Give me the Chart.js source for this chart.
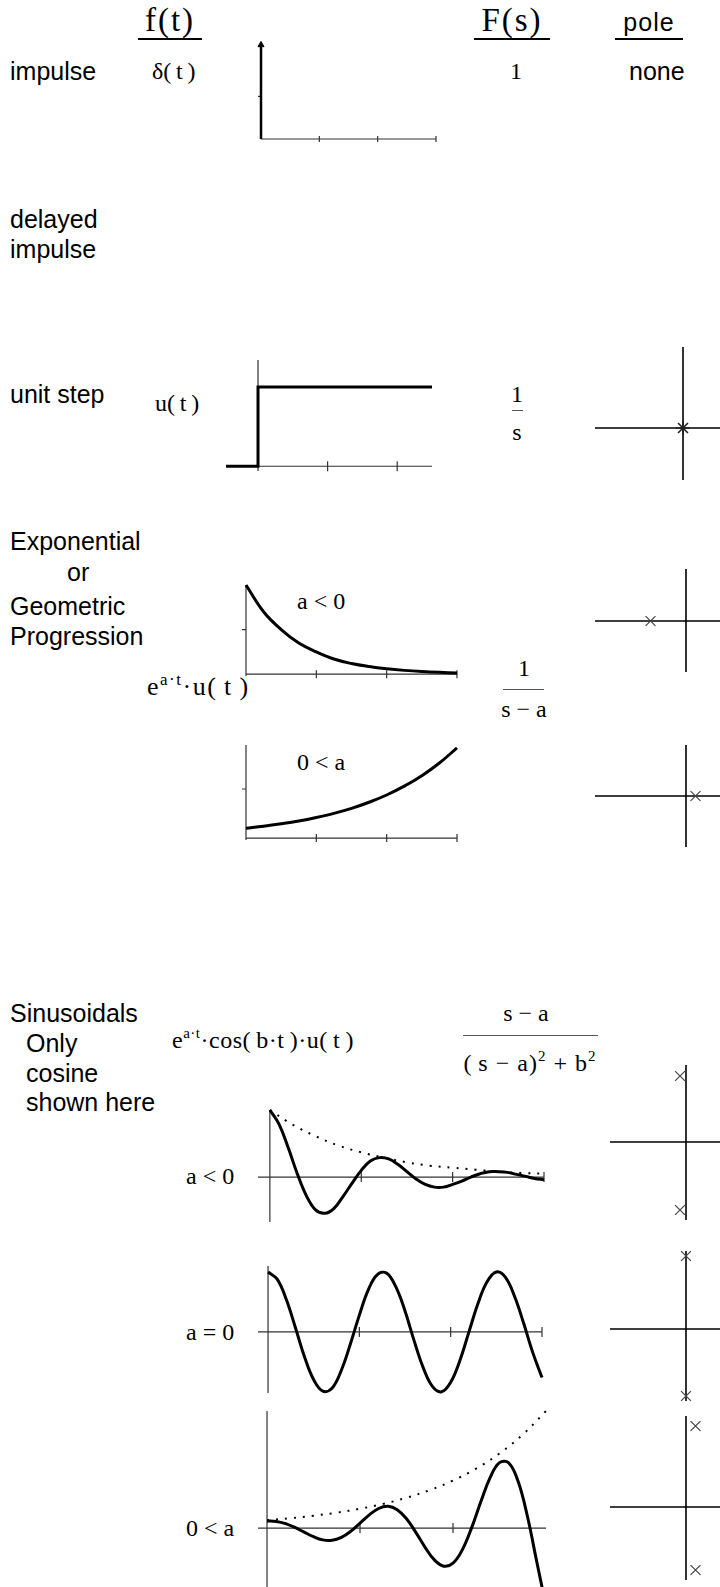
<!DOCTYPE html>
<html>
<head>
<meta charset="utf-8">
<script src="https://cdn.jsdelivr.net/npm/chart.js@4.4.0/dist/chart.umd.min.js"></script>
<style>
  html, body { margin: 0; padding: 0; background: #fff; }
  #page { position: relative; width: 720px; height: 1587px; overflow: hidden; }
  .txt { position: absolute; white-space: nowrap; line-height: 1; transform: translateY(-50%); color: #000; }
  .txt.c { transform: translate(-50%, -50%); }
  .sans { font-family: "Liberation Sans", Arial, sans-serif; font-size: 25px; }
  .ser { font-family: "Liberation Serif", "Times New Roman", serif; font-size: 24px; }
  .ser sup { font-size: 15px; line-height: 0; vertical-align: 10px; }
  .wide { font-size: 26px; letter-spacing: 1.5px; }
  .wide sup { font-size: 17px; }
  .hdr { position: absolute; text-align: center; border-bottom: 2px solid #000; }
  .bar { position: absolute; height: 1px; background: #555; }
  canvas { position: absolute; }
</style>
</head>
<body>
<div id="page"></div>
<script>
// ---- data ----
const tFine = [0, 0.1, 0.2, 0.3, 0.4, 0.5, 0.6, 0.7, 0.8, 0.9, 1.0, 1.1, 1.2, 1.3, 1.4, 1.5,
  1.6, 1.7, 1.8, 1.9, 2.0, 2.1, 2.2, 2.3, 2.4, 2.5, 2.6, 2.7, 2.8, 2.9, 3.0];
const cosDecay = [1.00, 0.79, 0.44, 0.05, -0.28, -0.49, -0.54, -0.47, -0.29, -0.09, 0.10, 0.24, 0.29, 0.27, 0.19, 0.08,
  -0.03, -0.11, -0.15, -0.15, -0.11, -0.06, 0.00, 0.05, 0.08, 0.08, 0.07, 0.04, 0.01, -0.02, -0.04];
const cosSteady = [1.00, 0.88, 0.54, 0.07, -0.42, -0.80, -0.99, -0.94, -0.65, -0.21, 0.28, 0.71, 0.96, 0.98, 0.75, 0.35,
  -0.15, -0.60, -0.91, -1.00, -0.84, -0.48, 0.00, 0.48, 0.84, 1.00, 0.91, 0.59, 0.14, -0.35, -0.76];
const cosGrow = [0.90, 0.85, 0.57, 0.08, -0.52, -1.10, -1.50, -1.55, -1.18, -0.42, 0.62, 1.68, 2.49, 2.77, 2.34, 1.18,
  -0.54, -2.45, -4.05, -4.85, -4.47, -2.77, 0.03, 3.37, 6.44, 8.33, 8.29, 5.95, 1.50, -4.25, -9.94];

const tCoarse = [0, 0.25, 0.5, 0.75, 1, 1.25, 1.5, 1.75, 2, 2.25, 2.5, 2.75, 3];
const expDown = [1.00, 0.70, 0.50, 0.35, 0.25, 0.17, 0.12, 0.086, 0.061, 0.043, 0.030, 0.021, 0.015];
const expUp = [1.0, 1.2, 1.45, 1.74, 2.10, 2.52, 3.03, 3.65, 4.39, 5.29, 6.36, 7.65, 9.2];
const envDecay = [1, 0.78, 0.61, 0.47, 0.37, 0.29, 0.22, 0.17, 0.14, 0.11, 0.08, 0.06, 0.05];
const envGrow = [1, 1.25, 1.57, 1.96, 2.46, 3.08, 3.86, 4.83, 6.05, 7.58, 9.49, 11.9, 14.9];

const impulseT = [0, 0];
const impulseV = [0, 0.97];
const stepT = [-0.46, 0, 0, 2.5];
const stepV = [0, 0, 1, 1];
const timeTicks = [1, 2, 3];

const stepPoleRe = [0], stepPoleIm = [0];
const decayPoleRe = [-1.42], decayPoleIm = [0];
const growPoleRe = [0.38], growPoleIm = [0];
const dampPoleRe = [-0.24, -0.24], dampPoleIm = [2.64, -2.72];
const oscPoleRe = [0, 0], oscPoleIm = [2.92, -2.68];
const risePoleRe = [0.38, 0.38], risePoleIm = [3.24, -2.52];

// ---- helpers ----
const page = document.getElementById('page');

function put(html, x, y, cls, center) {
    const d = document.createElement('div');
    d.className = 'txt ' + cls + (center ? ' c' : '');
    d.innerHTML = html;
    d.style.left = x + 'px';
    d.style.top = y + 'px';
    page.appendChild(d);
    return d;
}

function bar(x1, x2, y) {
    const d = document.createElement('div');
    d.className = 'bar';
    d.style.left = x1 + 'px';
    d.style.width = (x2 - x1) + 'px';
    d.style.top = y + 'px';
    page.appendChild(d);
}

function header(text, x, w, top, h, cls, size, spacing) {
    const d = document.createElement('div');
    d.className = 'hdr ' + cls;
    d.textContent = text;
    Object.assign(d.style, {
        left: x + 'px', width: w + 'px', top: top + 'px', height: h + 'px',
        lineHeight: h + 'px', fontSize: size + 'px', letterSpacing: spacing + 'px'
    });
    page.appendChild(d);
}

const pts = (xs, ys) => xs.map((x, i) => ({ x, y: ys[i] }));

// axes drawn through the chart's own scales
const axesPlugin = {
    id: 'axes',
    beforeDatasetsDraw(chart, args, o) {
        const { ctx, scales: { x, y } } = chart;
        const X = v => x.getPixelForValue(v), Y = v => y.getPixelForValue(v);
        ctx.save();
        ctx.strokeStyle = o.color;
        ctx.lineWidth = o.width;
        ctx.beginPath();
        ctx.moveTo(X(x.min), Y(0)); ctx.lineTo(X(x.max), Y(0));
        ctx.moveTo(X(0), Y(y.min)); ctx.lineTo(X(0), Y(y.max));
        (o.xTicks || []).forEach(t => { ctx.moveTo(X(t), Y(0) - o.tick); ctx.lineTo(X(t), Y(0) + o.tick); });
        (o.yTicks || []).forEach(v => { ctx.moveTo(X(0) - o.tick, Y(v)); ctx.lineTo(X(0), Y(v)); });
        ctx.stroke();
        ctx.restore();
    }
};

function plot(box, datasets, axes) {
    const pad = 10;
    const c = document.createElement('canvas');
    c.width = box.w + 2 * pad;
    c.height = box.h + 2 * pad;
    c.style.left = (box.left - pad) + 'px';
    c.style.top = (box.top - pad) + 'px';
    page.appendChild(c);
    return new Chart(c, {
        type: 'scatter',
        data: { datasets },
        options: {
            responsive: false,
            animation: false,
            events: [],
            layout: { padding: pad },
            scales: {
                x: { type: 'linear', min: box.xMin, max: box.xMax, display: false },
                y: { type: 'linear', min: box.yMin, max: box.yMax, display: false }
            },
            plugins: {
                legend: { display: false },
                tooltip: { enabled: false },
                axes: Object.assign({ color: '#333', width: 1.2, tick: 4 }, axes)
            }
        },
        plugins: [axesPlugin]
    });
}

const curve = (data, extra) => Object.assign({
    data, showLine: true, borderColor: '#000', borderWidth: 3, pointRadius: 0,
    tension: 0.4, clip: false, fill: false
}, extra);
const dotted = data => curve(data, { borderWidth: 2, borderDash: [2, 7] });
const poles = (data, style) => ({
    data, showLine: false, pointStyle: style || 'crossRot', pointRadius: 7,
    borderColor: '#444', backgroundColor: '#444', borderWidth: 1.2, clip: false
});
const poleAxes = { color: '#000', width: 1.6 };

// ---- headings and labels ----
header('f(t)', 138, 64, 2, 36, 'ser', 33, 2);
header('F(s)', 474, 76, 2, 36, 'ser', 33, 2);
header('pole', 615, 68, 7, 31, 'sans', 25, 1);

put('impulse', 10, 71, 'sans');
put('δ(&#8201;t&#8201;)', 152, 71, 'ser');
put('1', 516, 71, 'ser', true);
put('none', 629, 71, 'sans');

put('delayed', 10, 219, 'sans');
put('impulse', 10, 249, 'sans');

put('unit step', 10, 394, 'sans');
put('u(&#8201;t&#8201;)', 155, 403, 'ser');
put('1', 517, 394, 'ser', true);
bar(512, 523, 410);
put('s', 517, 432, 'ser', true);

put('Exponential', 10, 541, 'sans');
put('or', 67, 572, 'sans');
put('Geometric', 10, 606, 'sans');
put('Progression', 10, 636, 'sans');
put('a &lt; 0', 297, 601, 'ser');
put('0 &lt; a', 297, 762, 'ser');
put('e<sup>a·t</sup>·u(&#8201;t&#8201;)', 147, 687, 'ser wide');
put('1', 524, 668, 'ser', true);
bar(503, 544, 689);
put('s − a', 524, 709, 'ser', true);

put('Sinusoidals', 10, 1013, 'sans');
put('Only', 26, 1043, 'sans');
put('cosine', 26, 1073, 'sans');
put('shown here', 26, 1102, 'sans');
put('e<sup>a·t</sup>·cos(&#8201;b·t&#8201;)·u(&#8201;t&#8201;)', 172, 1040, 'ser').style.letterSpacing = '0.5px';
put('s − a', 526, 1013, 'ser', true);
bar(463, 598, 1035);
put('(&#8201;s − a)<sup>2</sup> + b<sup>2</sup>', 530, 1063, 'ser', true).style.letterSpacing = '1px';
put('a &lt; 0', 186, 1176, 'ser');
put('a = 0', 186, 1332, 'ser');
put('0 &lt; a', 186, 1528, 'ser');

// ---- time-domain plots ----
plot({ left: 261, top: 42, w: 175, h: 97, xMin: 0, xMax: 3, yMin: 0, yMax: 1 },
    [curve(pts(impulseT, impulseV), {
        tension: 0, borderWidth: 2.5, pointRadius: [0, 3.5], pointStyle: 'triangle',
        backgroundColor: '#000', pointBorderWidth: 1
    })],
    { xTicks: timeTicks, yTicks: [0.44], tick: 3 });

plot({ left: 226, top: 360, w: 206, h: 111, xMin: -0.46, xMax: 2.5, yMin: -0.06, yMax: 1.34 },
    [curve(pts(stepT, stepV), { tension: 0 })],
    { xTicks: [1, 2], tick: 5 });

plot({ left: 246, top: 585, w: 211, h: 91, xMin: 0, xMax: 3, yMin: -0.02, yMax: 1.0 },
    [curve(pts(tCoarse, expDown))],
    { xTicks: timeTicks, yTicks: [0.5], tick: 4 });

plot({ left: 246, top: 745, w: 211, h: 95, xMin: 0, xMax: 3, yMin: -0.2, yMax: 9.49 },
    [curve(pts(tCoarse, expUp))],
    { xTicks: timeTicks, yTicks: [5], tick: 4 });

plot({ left: 258, top: 1110, w: 286, h: 112, xMin: -0.13, xMax: 3, yMin: -0.67, yMax: 1.0 },
    [curve(pts(tFine, cosDecay)), dotted(pts(tCoarse, envDecay))],
    { xTicks: timeTicks, tick: 5 });

plot({ left: 258, top: 1266, w: 284, h: 127, xMin: -0.11, xMax: 3, yMin: -1.02, yMax: 1.1 },
    [curve(pts(tFine, cosSteady))],
    { xTicks: timeTicks, tick: 5 });

plot({ left: 258, top: 1411, w: 288, h: 176, xMin: -0.097, xMax: 3, yMin: -7.5, yMax: 14.9 },
    [curve(pts(tFine, cosGrow)), dotted(pts(tCoarse, envGrow))],
    { xTicks: [1, 2], tick: 5 });

// ---- pole plots ----
plot({ left: 595, top: 347, w: 125, h: 133, xMin: -3.52, xMax: 1.48, yMin: -2.08, yMax: 3.24 },
    [Object.assign(poles(pts(stepPoleRe, stepPoleIm), 'star'), { borderWidth: 1.6, borderColor: '#222' })], poleAxes);
plot({ left: 595, top: 569, w: 125, h: 103, xMin: -3.64, xMax: 1.36, yMin: -2.04, yMax: 2.08 },
    [poles(pts(decayPoleRe, decayPoleIm))], poleAxes);
plot({ left: 595, top: 745, w: 125, h: 102, xMin: -3.64, xMax: 1.36, yMin: -2.04, yMax: 2.04 },
    [poles(pts(growPoleRe, growPoleIm))], poleAxes);
plot({ left: 610, top: 1065, w: 110, h: 155, xMin: -3.04, xMax: 1.36, yMin: -3.12, yMax: 3.08 },
    [poles(pts(dampPoleRe, dampPoleIm))], poleAxes);
plot({ left: 610, top: 1251, w: 110, h: 150, xMin: -3.04, xMax: 1.36, yMin: -2.88, yMax: 3.12 },
    [poles(pts(oscPoleRe, oscPoleIm))], poleAxes);
plot({ left: 610, top: 1416, w: 110, h: 164, xMin: -3.04, xMax: 1.36, yMin: -2.92, yMax: 3.64 },
    [poles(pts(risePoleRe, risePoleIm))], poleAxes);
</script>
</body>
</html>
